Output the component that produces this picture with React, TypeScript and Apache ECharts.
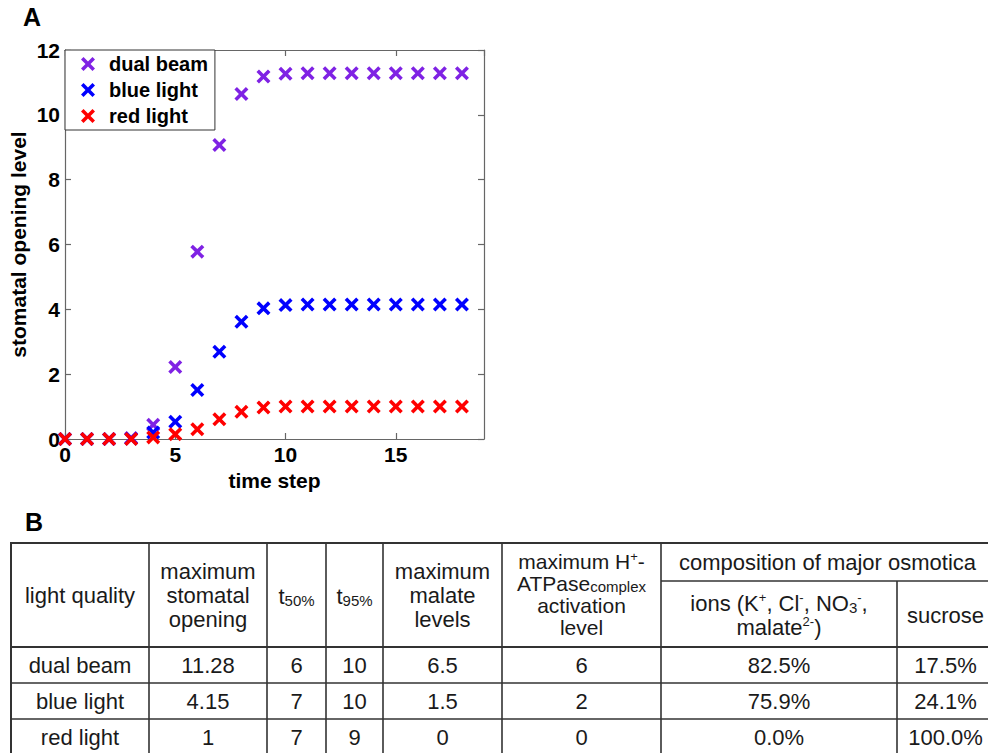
import React, { useEffect, useRef } from "react";
import * as echarts from "echarts";

// ---------- Panel A data ----------
const timeSteps = [0, 1, 2, 3, 4, 5, 6, 7, 8, 9, 10, 11, 12, 13, 14, 15, 16, 17, 18];
const dualBeam = [0, 0, 0, 0.03, 0.44, 2.22, 5.78, 9.07, 10.64, 11.18, 11.27, 11.28, 11.28, 11.28, 11.28, 11.28, 11.28, 11.28, 11.28];
const blueLight = [0, 0, 0, 0.01, 0.2, 0.53, 1.51, 2.69, 3.62, 4.03, 4.13, 4.15, 4.15, 4.15, 4.15, 4.15, 4.15, 4.15, 4.15];
const redLight = [0, 0, 0, 0, 0.05, 0.15, 0.3, 0.61, 0.84, 0.97, 1.0, 1.0, 1.0, 1.0, 1.0, 1.0, 1.0, 1.0, 1.0];
const seriesNames = ["dual beam", "blue light", "red light"];
const seriesColors = ["#7f22e4", "#0000ff", "#ff0000"];

// ---------- Panel B data ----------
const lightQuality = ["dual beam", "blue light", "red light"];
const maxStomatalOpening = ["11.28", "4.15", "1"];
const t50 = ["6", "7", "7"];
const t95 = ["10", "10", "9"];
const maxMalate = ["6.5", "1.5", "0"];
const atpaseActivation = ["6", "2", "0"];
const ionsShare = ["82.5%", "75.9%", "0.0%"];
const sucroseShare = ["17.5%", "24.1%", "100.0%"];

const FONT = "Arial, 'Liberation Sans', Helvetica, sans-serif";
const X_MARK = "path://M0,1.8L1.8,0L5,3.2L8.2,0L10,1.8L6.8,5L10,8.2L8.2,10L5,6.8L1.8,10L0,8.2L3.2,5Z";

function buildTable(): any[] {
  const els: any[] = [];
  const colX = [11, 149, 267, 326, 383, 502, 661, 897, 994];
  const rowY = [543, 647, 683, 719, 755];
  const subY = 581;
  const stroke = "#333";
  const line = (x1: number, y1: number, x2: number, y2: number, w = 1.6) =>
    els.push({ type: "line", shape: { x1, y1, x2, y2 }, style: { stroke, lineWidth: w }, silent: true });
  rowY.forEach((y, i) => line(colX[0] - 1, y, colX[8], y, i === 0 || i === 1 ? 2 : 1.6));
  line(colX[6], subY, colX[8], subY);
  colX.forEach((x, i) => {
    if (i === 7) line(x, subY, x, rowY[4]);
    else line(x, rowY[0], x, rowY[4], i === 0 ? 2 : 1.6);
  });
  const cx = colX.slice(0, 8).map((x, i) => (x + colX[i + 1]) / 2);
  const rich = {
    sub: { fontSize: 15, fontFamily: FONT, lineHeight: 15, verticalAlign: "bottom", fill: "#1a1a1a" },
    sup: { fontSize: 13, fontFamily: FONT, lineHeight: 13, verticalAlign: "top", fill: "#1a1a1a" },
  };
  const txt = (x: number, y: number, text: string, lh = 24, fs = 22) =>
    els.push({
      type: "text",
      x,
      y,
      silent: true,
      style: {
        text,
        fontSize: fs,
        fontFamily: FONT,
        lineHeight: lh,
        fill: "#1a1a1a",
        align: "center",
        verticalAlign: "middle",
        rich,
      },
    });
  const headY = (rowY[0] + rowY[1]) / 2;
  txt(cx[0], headY, "light quality");
  txt(cx[1], headY, "maximum\nstomatal\nopening");
  txt(cx[2], headY + 1, "t{sub|50%}");
  txt(cx[3], headY + 1, "t{sub|95%}");
  txt(cx[4], headY, "maximum\nmalate\nlevels");
  txt(cx[5], headY - 1, "maximum H{sup|+}-\nATPase{sub|complex}\nactivation\nlevel", 22, 21);
  txt((colX[6] + colX[8]) / 2, (rowY[0] + subY) / 2, "composition of major osmotica");
  txt(cx[6], (subY + rowY[1]) / 2 + 1, "ions (K{sup|+}, Cl{sup|-}, NO{sub|3}{sup|-},\nmalate{sup|2-})", 24);
  txt(cx[7], (subY + rowY[1]) / 2 + 1, "sucrose");
  const cols = [lightQuality, maxStomatalOpening, t50, t95, maxMalate, atpaseActivation, ionsShare, sucroseShare];
  for (let r = 0; r < 3; r++) {
    const y = (rowY[r + 1] + rowY[r + 2]) / 2;
    cols.forEach((col, c) => txt(cx[c], y, col[r]));
  }
  return els;
}

export default function App() {
  const ref = useRef<HTMLDivElement>(null);
  useEffect(() => {
    if (!ref.current) return;
    const chart = echarts.init(ref.current, null, { renderer: "svg" });
    const series = [dualBeam, blueLight, redLight].map((vals, i) => ({
      name: seriesNames[i],
      type: "scatter",
      data: timeSteps.map((t, k) => [t, vals[k]]),
      symbol: X_MARK,
      symbolSize: 14,
      itemStyle: { color: seriesColors[i], opacity: 1 },
      xAxisIndex: 0,
      yAxisIndex: 0,
    }));
    const axisLine = { show: true, onZero: false, lineStyle: { color: "#666", width: 1.2 } };
    const axisTick = { show: true, inside: true, length: 6, lineStyle: { color: "#666", width: 1.2 } };
    const label = { color: "#000", fontSize: 21, fontWeight: "bold", fontFamily: FONT };
    chart.setOption({
      animation: false,
      backgroundColor: "#fff",
      grid: { left: 65, top: 50, width: 419, height: 389, containLabel: false },
      legend: {
        data: seriesNames,
        orient: "vertical",
        left: 65,
        top: 50,
        padding: [4, 7, 4, 16],
        itemWidth: 14,
        itemHeight: 14,
        itemGap: 6,
        backgroundColor: "#fff",
        borderColor: "#333",
        borderWidth: 1,
        borderRadius: 0,
        textStyle: { color: "#000", fontSize: 20, fontWeight: "bold", fontFamily: FONT, padding: [0, 0, 0, 9] },
      },
      xAxis: [
        {
          type: "value",
          min: 0,
          max: 19,
          interval: 5,
          axisLine,
          axisTick,
          splitLine: { show: false },
          axisLabel: { ...label, margin: 5, showMaxLabel: false },
          name: "time step",
          nameLocation: "middle",
          nameGap: 26,
          nameTextStyle: { color: "#000", fontSize: 21, fontWeight: "bold", fontFamily: FONT },
        },
        {
          type: "value",
          position: "top",
          min: 0,
          max: 19,
          interval: 5,
          axisLine,
          axisTick,
          splitLine: { show: false },
          axisLabel: { show: false },
        },
      ],
      yAxis: [
        {
          type: "value",
          min: 0,
          max: 12,
          interval: 2,
          axisLine,
          axisTick,
          splitLine: { show: false },
          axisLabel: { ...label, margin: 5 },
          name: "stomatal opening level",
          nameLocation: "middle",
          nameGap: 36,
          nameTextStyle: { color: "#000", fontSize: 21, fontWeight: "bold", fontFamily: FONT },
        },
        {
          type: "value",
          position: "right",
          min: 0,
          max: 12,
          interval: 2,
          axisLine,
          axisTick,
          splitLine: { show: false },
          axisLabel: { show: false },
        },
      ],
      series,
      graphic: {
        elements: [
          {
            type: "text",
            left: 23,
            top: 4,
            style: { text: "A", fontSize: 25, fontWeight: "bold", fontFamily: FONT, fill: "#000" },
          },
          {
            type: "text",
            left: 25,
            top: 509,
            style: { text: "B", fontSize: 25, fontWeight: "bold", fontFamily: FONT, fill: "#000" },
          },
          ...buildTable(),
        ],
      },
    });
    return () => chart.dispose();
  }, []);
  return (
    <div
      ref={ref}
      style={{ position: "absolute", left: 0, top: 0, width: 988, height: 753, background: "#fff" }}
    />
  );
}
